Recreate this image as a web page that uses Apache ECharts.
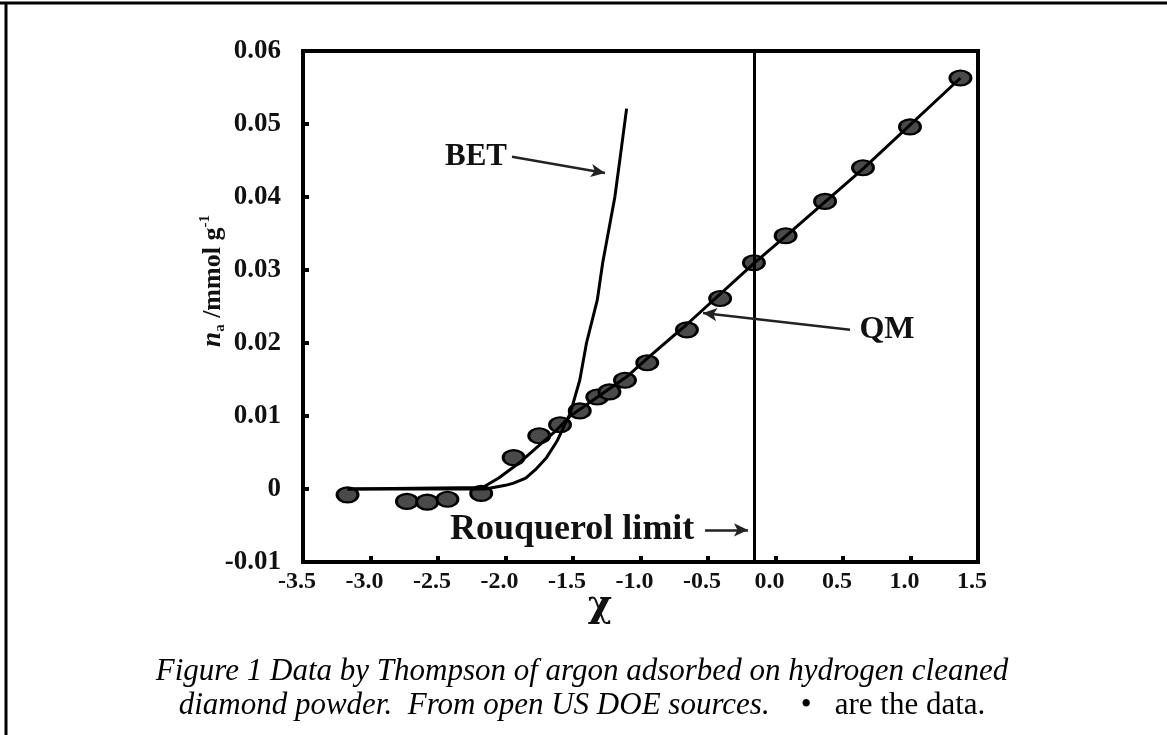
<!DOCTYPE html>
<html>
<head>
<meta charset="utf-8">
<title>Argon on diamond powder</title>
<script src="https://cdn.jsdelivr.net/npm/echarts@6/dist/echarts.min.js"></script>
<style>
  html, body { margin: 0; padding: 0; background: #fff; }
  #chart { width: 1167px; height: 735px; }
</style>
</head>
<body>
<div id="chart"></div>
<script>
// measured points (chi, n_a in mmol/g)
const dataChi = [-3.17, -2.73, -2.58, -2.43, -2.18, -1.94, -1.75, -1.596, -1.45, -1.32, -1.23, -1.115,
  -0.95, -0.656, -0.41, -0.16, 0.075, 0.367, 0.648, 0.996, 1.37];
const dataNa = [-0.0008, -0.0017, -0.0018, -0.0014, -0.0006, 0.0043, 0.0073, 0.0088, 0.0107, 0.0126, 0.0133, 0.0149,
  0.0173, 0.0218, 0.0261, 0.031, 0.0347, 0.0394, 0.044, 0.0496, 0.0563];

// QM fit curve
const qmChi = [-3.17, -2.17, -2.05, -1.89, -1.62, -1.52, -1.10, -0.95, -0.66, -0.16, 0.08, 0.65, 1.37];
const qmNa = [0, 0.0002, 0.0015, 0.0037, 0.0081, 0.0100, 0.0154, 0.0179, 0.0225, 0.0309, 0.0347, 0.0439, 0.0563];

// BET fit curve
const betChi = [-3.17, -2.15, -2.0, -1.94, -1.85, -1.77, -1.70, -1.62, -1.52, -1.45, -1.40, -1.32, -1.28,
  -1.23, -1.19, -1.15, -1.103];
const betNa = [0, 0, 0.0005, 0.0008, 0.0015, 0.0028, 0.0042, 0.0065, 0.0104, 0.0149, 0.020, 0.0259, 0.031,
  0.036, 0.040, 0.0455, 0.0521];

const rouquerolChi = -0.16;

const xTickLabels = ['-3.5', '-3.0', '-2.5', '-2.0', '-1.5', '-1.0', '-0.5', '0.0', '0.5', '1.0', '1.5'];
const yTickLabels = ['-0.01', '0', '0.01', '0.02', '0.03', '0.04', '0.05', '0.06'];
const xMin = -3.5, xMax = 1.5, xStep = 0.5;
const yMin = -0.01, yMax = 0.06, yStep = 0.01;

const serif = "'Liberation Serif', 'Times New Roman', serif";
const ink = '#111';

const zip = (a, b) => a.map((v, i) => [v, b[i]]);

const chart = echarts.init(document.getElementById('chart'));

const arrowLine = (from, to) => [{ coord: from }, { coord: to }];

const option = {
  backgroundColor: '#fff',
  animation: false,
  grid: {
    left: 303, right: 189, top: 51, bottom: 173,
    show: true, borderColor: '#000', borderWidth: 4,
  },
  xAxis: {
    type: 'value',
    min: xMin, max: xMax, interval: xStep,
    axisLine: { onZero: false, lineStyle: { color: '#000', width: 4 } },
    axisTick: { inside: true, length: 6, lineStyle: { color: '#000', width: 4 } },
    splitLine: { show: false },
    axisLabel: {
      margin: 8,
      fontFamily: serif, fontWeight: 'bold', fontSize: 24, color: ink,
      padding: [0, 12, 0, 0],
      formatter: (v) => xTickLabels[Math.round((v - xMin) / xStep)],
    },
  },
  yAxis: {
    type: 'value',
    min: yMin, max: yMax, interval: yStep,
    axisLine: { onZero: false, lineStyle: { color: '#000', width: 4 } },
    axisTick: { inside: true, length: 6, lineStyle: { color: '#000', width: 4 } },
    splitLine: { show: false },
    axisLabel: {
      margin: 22,
      fontFamily: serif, fontWeight: 'bold', fontSize: 27, color: ink,
      padding: [4, 0, 0, 0],
      formatter: (v) => yTickLabels[Math.round((v - yMin) / yStep)],
    },
  },
  series: [
    {
      name: 'data',
      type: 'scatter',
      data: zip(dataChi, dataNa),
      symbol: 'circle',
      symbolSize: [21, 15],
      itemStyle: { color: '#4a4a4a', borderColor: '#000', borderWidth: 2.5, opacity: 1 },
      markLine: {
        silent: true,
        symbol: ['none', 'none'],
        label: { show: false },
        lineStyle: { color: '#000', width: 3, type: 'solid' },
        data: [{ xAxis: rouquerolChi }],
      },
    },
    {
      name: 'QM',
      type: 'line',
      data: zip(qmChi, qmNa),
      showSymbol: false,
      lineStyle: { color: '#000', width: 3 },
    },
    {
      name: 'BET',
      type: 'line',
      data: zip(betChi, betNa),
      showSymbol: false,
      lineStyle: { color: '#000', width: 3 },
      // annotation arrows
      markLine: {
        silent: true,
        symbol: ['none', 'arrow'],
        symbolSize: [10, 14],
        label: { show: false },
        lineStyle: { color: '#222', width: 2.5, type: 'solid' },
        data: [
          arrowLine([-1.952, 0.0455], [-1.263, 0.0433]),
          arrowLine([0.552, 0.0218], [-0.537, 0.0241]),
          arrowLine([-0.522, -0.0056], [-0.204, -0.0056]),
        ],
      },
    },
  ],
  graphic: [
    // outer frame pieces
    { type: 'line', shape: { x1: 0, y1: 3, x2: 1167, y2: 3 }, style: { stroke: '#000', lineWidth: 3 } },
    { type: 'line', shape: { x1: 6, y1: 2, x2: 6, y2: 735 }, style: { stroke: '#000', lineWidth: 3 } },
    {
      type: 'text', x: 476, y: 157,
      style: { text: 'BET', font: 'bold 31px ' + serif, fill: ink, align: 'center', verticalAlign: 'middle' },
    },
    {
      type: 'text', x: 887, y: 330,
      style: { text: 'QM', font: 'bold 32px ' + serif, fill: ink, align: 'center', verticalAlign: 'middle' },
    },
    {
      type: 'text', x: 450, y: 530,
      style: { text: 'Rouquerol limit', font: 'bold 36px ' + serif, fill: ink, align: 'left', verticalAlign: 'middle' },
    },
    {
      type: 'text', x: 600, y: 606,
      style: { text: 'χ', font: 'bold 37px "DejaVu Serif", serif', fill: ink, align: 'center', verticalAlign: 'middle' },
    },
    {
      type: 'text', x: 213, y: 281, rotation: Math.PI / 2,
      style: {
        text: '{n|n}{a|a}{t| /mmol g}{s|-1}',
        align: 'center', verticalAlign: 'middle', fill: ink,
        rich: {
          n: { fontFamily: serif, fontWeight: 'bold', fontStyle: 'italic', fontSize: 27, lineHeight: 30, fill: ink },
          a: { fontFamily: serif, fontWeight: 'bold', fontSize: 15, lineHeight: 14, verticalAlign: 'bottom', fill: ink },
          t: { fontFamily: serif, fontWeight: 'bold', fontSize: 26, lineHeight: 30, fill: ink },
          s: { fontFamily: serif, fontWeight: 'bold', fontSize: 15, lineHeight: 14, verticalAlign: 'top', fill: ink },
        },
      },
    },
    {
      type: 'text', x: 582, y: 672,
      style: {
        text: 'Figure 1 Data by Thompson of argon adsorbed on hydrogen cleaned',
        font: 'italic 31px ' + serif, fill: '#000', align: 'center', verticalAlign: 'middle',
      },
    },
    {
      type: 'text', x: 582, y: 706,
      style: {
        text: '{i|diamond powder.  From open US DOE sources.}{r|    •   are the data.}',
        align: 'center', verticalAlign: 'middle', fill: '#000',
        rich: {
          i: { fontFamily: serif, fontStyle: 'italic', fontSize: 31, fill: '#000' },
          r: { fontFamily: serif, fontSize: 31, fill: '#000' },
        },
      },
    },
  ],
};

chart.setOption(option);
</script>
</body>
</html>
